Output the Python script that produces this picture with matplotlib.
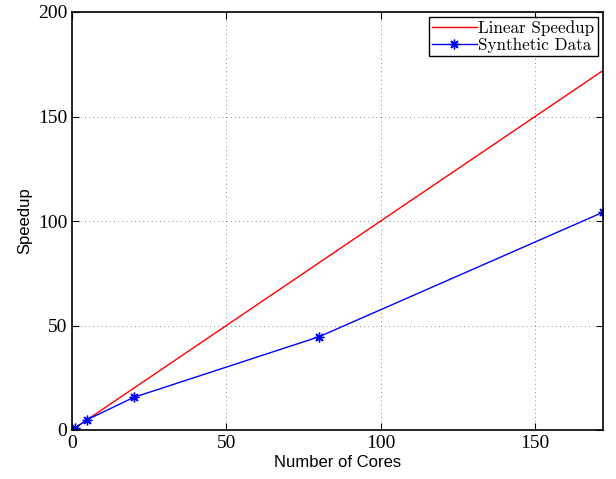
import matplotlib
matplotlib.use('Agg')
import matplotlib.pyplot as plt

# data
cores_linear = [1, 172]
speedup_linear = [1, 172]
cores = [1, 5, 20, 80, 172]
speedup = [1, 5, 15.6, 44.6, 104.2]

fig = plt.figure(figsize=(6.16, 4.79), dpi=100)
ax = fig.add_axes([72 / 616, 1 - 430 / 479, 531 / 616, 418 / 479])

ax.plot(cores_linear, speedup_linear, color='red', lw=1, label='Linear Speedup')
ax.plot(cores, speedup, color='blue', lw=1, marker=(8, 2, 0), ms=7, mew=1,
        label='Synthetic Data')

ax.set_xlim(0, 172)
ax.set_ylim(0, 200)
ax.set_xticks([0, 50, 100, 150])
ax.set_yticks([0, 50, 100, 150, 200])
ax.grid(True, color='black', linestyle=(0, (1, 4)), linewidth=0.6, alpha=0.6)
ax.tick_params(direction='in', length=5, width=0.8, top=True, right=True)
for lbl in ax.get_xticklabels() + ax.get_yticklabels():
    lbl.set_family('Liberation Serif')
    lbl.set_fontsize(14)
for s in ax.spines.values():
    s.set_linewidth(1.2)

ax.set_xlabel('Number of Cores', family='Liberation Sans', fontsize=12, labelpad=2)
ax.set_ylabel('Speedup', family='Liberation Sans', fontsize=12, labelpad=4)

leg = ax.legend(loc='upper right', prop={'family': 'cmr10', 'size': 12.3},
                fancybox=False, framealpha=1, edgecolor='black',
                borderaxespad=0.3, handlelength=2.6, handletextpad=0.1,
                borderpad=0.2, labelspacing=0.05)
leg.get_frame().set_linewidth(1.0)

fig.savefig('out.png', dpi=100)
